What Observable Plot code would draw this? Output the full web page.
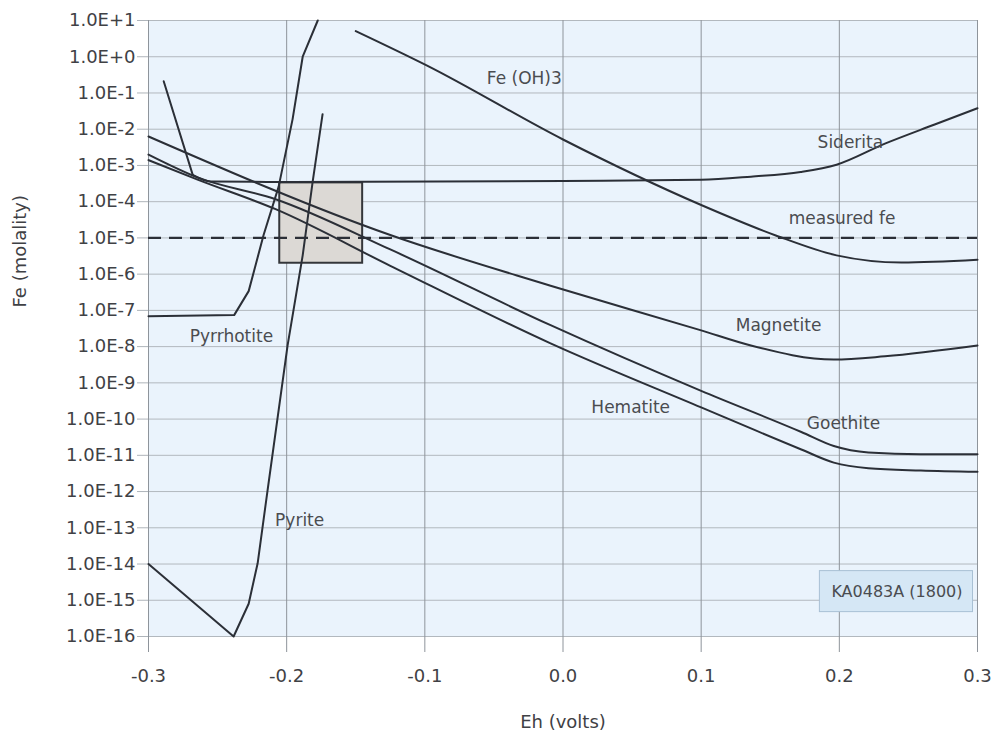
<!DOCTYPE html>
<html>
<head>
<meta charset="utf-8">
<script src="https://cdn.jsdelivr.net/npm/d3@7"></script>
<script src="https://cdn.jsdelivr.net/npm/@observablehq/plot@0.6"></script>
<style>
  html, body { margin: 0; padding: 0; background: #ffffff; }
</style>
</head>
<body>
<script>
// ---- axis ticks ----
const xTicks = [-0.3, -0.2, -0.1, 0, 0.1, 0.2, 0.3];
const xTickLabels = ["-0.3", "-0.2", "-0.1", "0.0", "0.1", "0.2", "0.3"];
const yTicks = [1e1, 1e0, 1e-1, 1e-2, 1e-3, 1e-4, 1e-5, 1e-6, 1e-7, 1e-8, 1e-9, 1e-10, 1e-11, 1e-12, 1e-13, 1e-14, 1e-15, 1e-16];
const yTickLabels = ["1.0E+1", "1.0E+0", "1.0E-1", "1.0E-2", "1.0E-3", "1.0E-4", "1.0E-5", "1.0E-6", "1.0E-7", "1.0E-8", "1.0E-9", "1.0E-10", "1.0E-11", "1.0E-12", "1.0E-13", "1.0E-14", "1.0E-15", "1.0E-16"];

// ---- mineral solubility curves (Eh in volts, Fe in molality) ----
// Siderita: steep straight start, then a smooth curve
const sideritaSteepEh = [-0.289, -0.268];
const sideritaSteepFe = [0.21, 5.5e-4];
const sideritaEh = [-0.268, -0.255, -0.2, 0.0, 0.1, 0.136, 0.172, 0.198, 0.233, 0.269, 0.3];
const sideritaFe = [5.5e-4, 3.6e-4, 3.5e-4, 3.7e-4, 4.0e-4, 4.9e-4, 6.6e-4, 1.05e-3, 4.0e-3, 1.35e-2, 3.8e-2];

const feoh3Eh = [-0.15, -0.098, 0.0, 0.1, 0.154, 0.198, 0.245, 0.3];
const feoh3Fe = [5.1, 0.56, 5.2e-3, 8.1e-5, 1.17e-5, 3.3e-6, 2.1e-6, 2.5e-6];

const magnetiteEh = [-0.3, -0.125, -0.009, 0.1, 0.136, 0.196, 0.233, 0.3];
const magnetiteFe = [6.3e-3, 1.2e-5, 4.8e-7, 2.8e-8, 1.07e-8, 4.4e-9, 5.4e-9, 1.07e-8];

const goethiteEh = [-0.3, -0.264, -0.208, -0.125, -0.009, 0.1, 0.1725, 0.196, 0.221, 0.259, 0.3];
const goethiteFe = [2.0e-3, 4.6e-4, 1.17e-4, 4.8e-6, 3.9e-8, 6.0e-10, 4.4e-11, 1.8e-11, 1.2e-11, 1.07e-11, 1.07e-11];

const hematiteEh = [-0.3, -0.264, -0.208, -0.125, -0.009, 0.1, 0.1725, 0.196, 0.221, 0.259, 0.3];
const hematiteFe = [1.4e-3, 4.0e-4, 6.2e-5, 1.7e-6, 1.23e-8, 2.1e-10, 1.45e-11, 6.3e-12, 4.4e-12, 3.8e-12, 3.5e-12];

const pyrrhotiteEh = [-0.3, -0.238, -0.2275, -0.2167, -0.2058, -0.1957, -0.1884, -0.1775];
const pyrrhotiteFe = [6.9e-8, 7.4e-8, 3.4e-7, 1.2e-5, 2.6e-4, 1.9e-2, 1.0, 10];

const pyriteEh = [-0.3, -0.2384, -0.2275, -0.221, -0.2138, -0.1993, -0.1884, -0.1812, -0.174];
const pyriteFe = [1e-14, 1e-16, 8e-16, 1.05e-14, 1.1e-12, 1.1e-8, 3.3e-6, 3.5e-4, 2.6e-2];

// measured Fe and the uncertainty box
const measuredFe = [1e-5];
const boxEh = [-0.205, -0.145];
const boxFe = [2e-6, 3.3e-4];

// ---- labels ----
const labelText = ["Fe (OH)3", "Siderita", "measured fe", "Magnetite", "Hematite", "Goethite", "Pyrrhotite", "Pyrite"];
const labelEh   = [-0.028, 0.208, 0.202, 0.156, 0.049, 0.203, -0.24, -0.1906];
const labelFe   = [0.25, 4.3e-3, 3.5e-5, 3.8e-8, 2.1e-10, 7.6e-11, 1.9e-8, 1.6e-13];
const tagLabel = "KA0483A (1800)";
const xLabel = "Eh (volts)";
const yLabel = "Fe (molality)";

// ---- build tables ----
const smooth = [
  ["Siderita", sideritaEh, sideritaFe],
  ["Fe (OH)3", feoh3Eh, feoh3Fe],
  ["Magnetite", magnetiteEh, magnetiteFe],
  ["Goethite", goethiteEh, goethiteFe],
  ["Hematite", hematiteEh, hematiteFe]
].flatMap(([name, xs, ys]) => xs.map((x, i) => ({name, eh: x, fe: ys[i]})));
const straight = [
  ["Siderita steep", sideritaSteepEh, sideritaSteepFe],
  ["Pyrrhotite", pyrrhotiteEh, pyrrhotiteFe],
  ["Pyrite", pyriteEh, pyriteFe]
].flatMap(([name, xs, ys]) => xs.map((x, i) => ({name, eh: x, fe: ys[i]})));
const labels = labelText.map((t, i) => ({t, eh: labelEh[i], fe: labelFe[i]}));
const box = [{x1: boxEh[0], x2: boxEh[1], y1: boxFe[0], y2: boxFe[1]}];

const xFmt = new Map(xTicks.map((d, i) => [d, xTickLabels[i]]));
const yFmt = new Map(yTicks.map((d, i) => [d, yTickLabels[i]]));

const lineColor = "#2b2f37";
const textColor = "#3f4145";
const font = "DejaVu Sans";

const chart = Plot.plot({
  width: 1000,
  height: 733,
  marginLeft: 148,
  marginRight: 23,
  marginTop: 20,
  marginBottom: 97,
  style: {fontFamily: font, fontSize: "17px", background: "#ffffff", color: textColor},
  x: {domain: [-0.3, 0.3], label: null},
  y: {type: "log", domain: [1e-16, 1e1], label: null},
  marks: [
    Plot.frame({fill: "#eaf3fc", stroke: null}),
    Plot.gridY(yTicks, {stroke: "#b2b8be", strokeOpacity: 1, strokeWidth: 1}),
    Plot.gridX(xTicks, {stroke: "#8e949b", strokeOpacity: 1, strokeWidth: 1}),
    Plot.axisY(yTicks, {tickFormat: d => yFmt.get(d), tickSize: 11, tickPadding: 2, stroke: "#aeb4ba", fontSize: 18, fill: textColor, label: null}),
    Plot.axisX(xTicks, {tickFormat: d => xFmt.get(d), tickSize: 16, tickPadding: 17, stroke: "#8e949b", fontSize: 18, fill: textColor, label: null}),
    Plot.rect(box, {x1: "x1", x2: "x2", y1: "y1", y2: "y2", fill: "#dcd9d5", stroke: "#34363a", strokeWidth: 2}),
    Plot.line(smooth, {x: "eh", y: "fe", z: "name", curve: "monotone-x", stroke: lineColor, strokeWidth: 2}),
    Plot.line(straight, {x: "eh", y: "fe", z: "name", curve: "linear", stroke: lineColor, strokeWidth: 2}),
    Plot.ruleY(measuredFe, {stroke: lineColor, strokeWidth: 2.2, strokeDasharray: "13,8"}),
    Plot.text(labels, {x: "eh", y: "fe", text: "t", fill: "#4a4c50", fontSize: 17}),
    Plot.text([tagLabel], {frameAnchor: "bottom-right", textAnchor: "end", lineAnchor: "middle", dx: -15, dy: -45, fill: "#4a4c50", fontSize: 16}),
    Plot.text([yLabel], {frameAnchor: "left", rotate: -90, dx: -128, dy: -21, fill: textColor, fontSize: 18}),
    Plot.text([xLabel], {frameAnchor: "bottom", lineAnchor: "middle", dy: 86, fill: textColor, fontSize: 18})
  ]
});
document.body.append(chart);

// background box behind the sample tag
const tag = [...chart.querySelectorAll("text")].find(t => t.textContent === tagLabel);
if (tag) {
  const bb = tag.getBBox();
  const ns = "http://www.w3.org/2000/svg";
  const r = document.createElementNS(ns, "rect");
  r.setAttribute("x", bb.x - 12);
  r.setAttribute("y", bb.y - 11);
  r.setAttribute("width", bb.width + 22);
  r.setAttribute("height", bb.height + 22);
  r.setAttribute("fill", "#d5e7f5");
  r.setAttribute("stroke", "#a8c0d4");
  r.setAttribute("stroke-width", "1");
  const tr = tag.getAttribute("transform");
  if (tr) r.setAttribute("transform", tr);
  tag.parentNode.insertBefore(r, tag);
}
</script>
</body>
</html>
